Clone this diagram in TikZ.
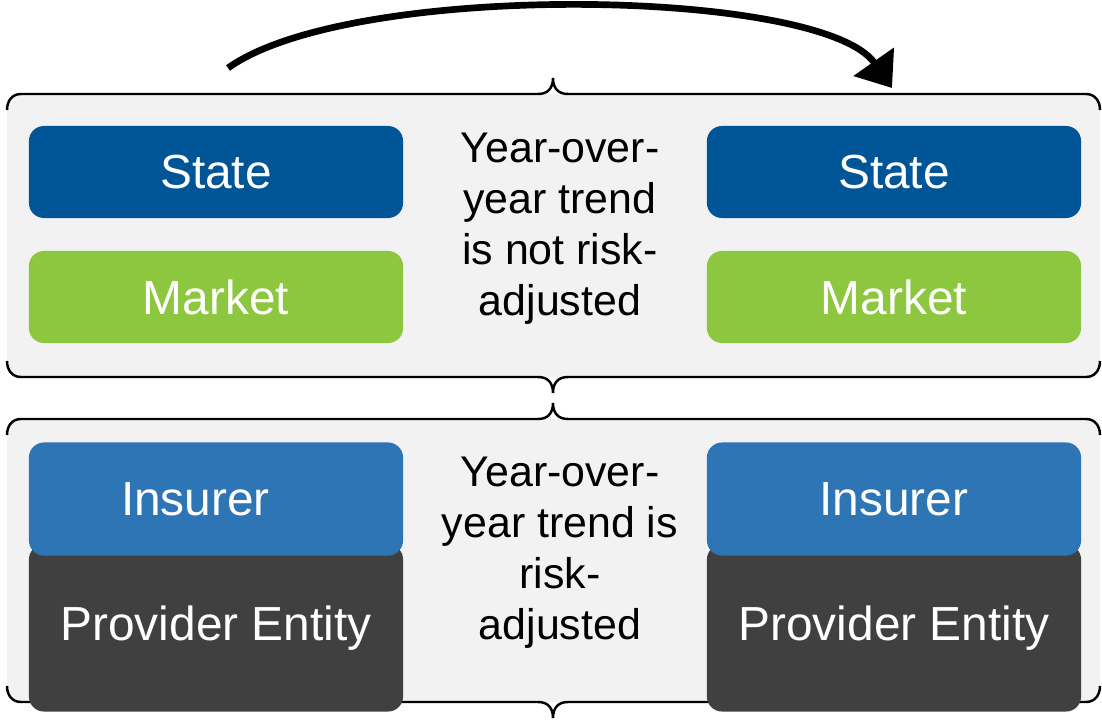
\documentclass[tikz,border=0pt]{standalone}
\usepackage{fontspec}
\setmainfont{Liberation Sans}
\usetikzlibrary{arrows.meta}

\definecolor{stateblue}{HTML}{005596}
\definecolor{marketgreen}{HTML}{8DC63F}
\definecolor{insurerblue}{HTML}{2E75B6}
\definecolor{providergray}{HTML}{404040}
\definecolor{panelgray}{HTML}{F2F2F2}

\tikzset{
  cell/.style={rounded corners=4.3pt, minimum width=3.74cm, inner sep=0pt,
    text=white, font=\fontsize{13.6}{16}\selectfont},
  trendtext/.style={align=center, inner sep=0pt, font=\fontsize{12.2}{14.5}\selectfont},
  bracestyle/.style={line width=0.7pt},
  panel/.style={fill=panelgray, rounded corners=0.14cm}
}

% one brace line: #1 = height, #2 = +1 (ends down, tip up) or -1 (ends up, tip down)
\newcommand{\bracerow}[2]{%
  \draw[bracestyle] (7,{#1+16*(#2)}) .. controls (7,{#1+7*(#2)}) and (12,#1) .. (21,#1)
    -- (538,#1) .. controls (548,#1) and (553,{#1-6*(#2)}) .. (553,{#1-16*(#2)})
    .. controls (553,{#1-6*(#2)}) and (558,#1) .. (568,#1)
    -- (1086,#1) .. controls (1095,#1) and (1100,{#1+7*(#2)}) .. (1100,{#1+16*(#2)});}

\begin{document}
\begin{tikzpicture}[x=0.01cm, y=-0.01cm]
  \useasboundingbox (0,0) rectangle (1102,721);

  % panels
  \fill[panel] (7,94) rectangle (1100,377);
  \fill[panel] (7,419) rectangle (1100,702);
  \bracerow{94}{1}
  \bracerow{377}{-1}
  \bracerow{419}{1}
  \bracerow{702}{-1}

  % upper panel
  \node[cell, fill=stateblue, minimum height=0.92cm] (stateold) at (216,172) {State};
  \node[cell, fill=marketgreen, minimum height=0.92cm] (marketold) at (216,297) {Market};
  \node[cell, fill=stateblue, minimum height=0.92cm] (statenew) at (894,172) {State};
  \node[cell, fill=marketgreen, minimum height=0.92cm] (marketnew) at (894,297) {Market};
  \node[trendtext] (nottrend) at (560,229) {Year-over-\\year trend\\is not risk-\\adjusted};

  % lower panel
  \node[cell, fill=providergray, minimum height=1.67cm] (providerold) at (216,628) {Provider Entity};
  \node[cell, fill=providergray, minimum height=1.67cm] (providernew) at (894,628) {Provider Entity};
  \node[cell, fill=insurerblue, minimum height=1.13cm] (insurerold) at (216,499) {Insurer\hspace*{0.41cm}};
  \node[cell, fill=insurerblue, minimum height=1.13cm] (insurernew) at (894,499) {Insurer};
  \node[trendtext] (istrend) at (560,553) {Year-over-\\year trend is\\risk-\\adjusted};

  % year to year arrow
  \coordinate (from) at (228,68);
  \coordinate (to) at (892,88);
  \draw[line width=1.9pt, -{Triangle[length=0.32cm, width=0.48cm]}]
    (from) .. controls (351,-20) and (822,-12) .. (to);
\end{tikzpicture}
\end{document}
